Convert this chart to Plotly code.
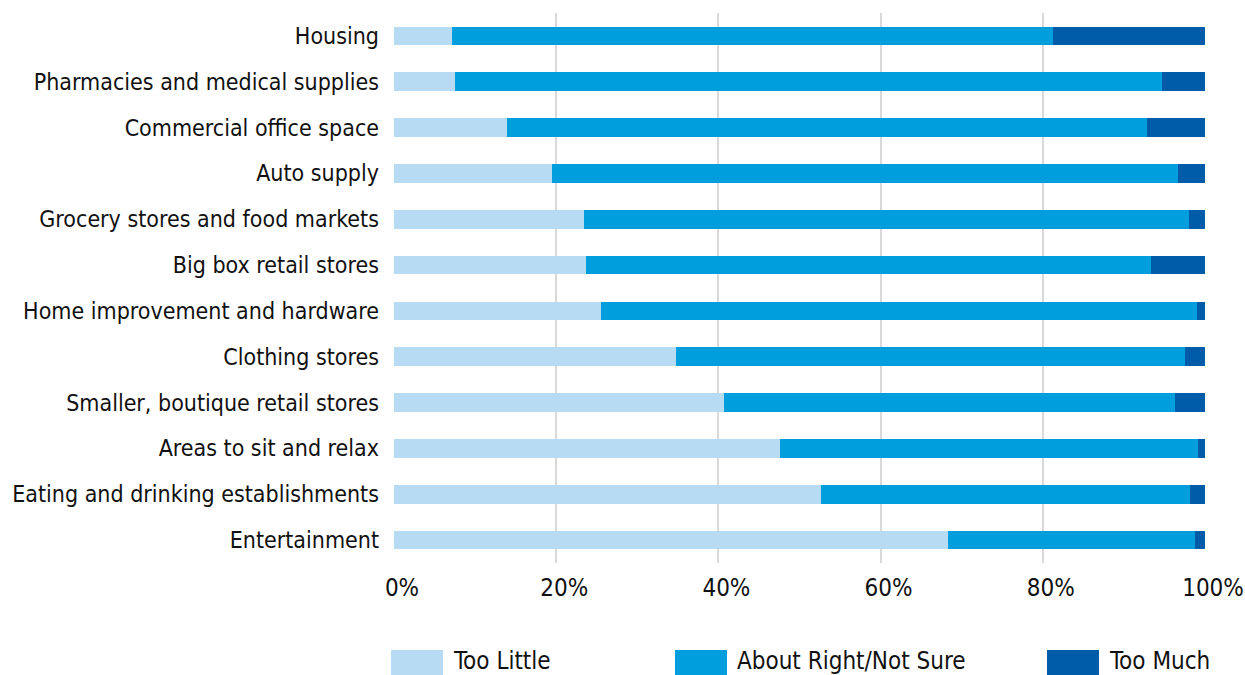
import plotly.graph_objects as go

# Survey: perceived supply of each type of space/business
categories = [
    "Housing",
    "Pharmacies and medical supplies",
    "Commercial office space",
    "Auto supply",
    "Grocery stores and food markets",
    "Big box retail stores",
    "Home improvement and hardware",
    "Clothing stores",
    "Smaller, boutique retail stores",
    "Areas to sit and relax",
    "Eating and drinking establishments",
    "Entertainment",
]
too_little = [7.2, 7.5, 13.9, 19.5, 23.4, 23.7, 25.5, 34.8, 40.7, 47.6, 52.6, 68.3]
too_much = [18.7, 5.3, 7.2, 3.3, 2.0, 6.7, 1.0, 2.5, 3.7, 0.9, 1.8, 1.2]
about_right = [round(100 - a - b, 1) for a, b in zip(too_little, too_much)]

series_names = ["Too Little", "About Right/Not Sure", "Too Much"]
series_values = [too_little, about_right, too_much]
colors = ["#B8DBF4", "#009EDD", "#005CA9"]

FONT = "Liberation Sans Narrow, DejaVu Sans Condensed, sans-serif"
W, H = 1245, 675
M = dict(l=394, r=40, t=13, b=112)

fig = go.Figure()
for name, vals, col in zip(series_names, series_values, colors):
    fig.add_trace(go.Bar(
        y=categories, x=vals, name=name, orientation="h",
        marker=dict(color=col, line=dict(width=0)),
        showlegend=False,
        hovertemplate="%{y}: %{x:.1f}%<extra>" + name + "</extra>",
    ))

# Legend drawn as large swatches with labels beneath the axis
def px_to_paper_x(px):
    return (px - M["l"]) / (W - M["l"] - M["r"])

def px_to_paper_y(py):
    return (H - M["b"] - py) / (H - M["t"] - M["b"])

swatch_left = [391, 675, 1047]
for name, col, x0 in zip(series_names, colors, swatch_left):
    fig.add_shape(
        type="rect", xref="paper", yref="paper",
        x0=px_to_paper_x(x0), x1=px_to_paper_x(x0 + 52),
        y0=px_to_paper_y(650), y1=px_to_paper_y(676),
        fillcolor=col, line=dict(width=0),
    )
    fig.add_annotation(
        text=name, xref="paper", yref="paper",
        x=px_to_paper_x(x0 + 60), y=px_to_paper_y(661),
        xanchor="left", yanchor="middle", showarrow=False,
        font=dict(family=FONT, size=24, color="#111111"),
    )

fig.update_layout(
    width=W, height=H, margin=M,
    barmode="stack", bargap=0.59,
    plot_bgcolor="white", paper_bgcolor="white",
    font=dict(family=FONT, size=23, color="#111111"),
)
fig.update_xaxes(
    range=[0, 100], tickvals=[0, 20, 40, 60, 80, 100],
    ticktext=["0%", "20%", "40%", "60%", "80%", "100%"],
    showgrid=True, gridcolor="#D9D9D9", gridwidth=2,
    zeroline=False, showline=False, automargin=False,
    ticks="", ticklabelstandoff=8, ticklabelshift=8,
    tickfont=dict(size=24),
)
fig.update_yaxes(
    autorange="reversed", showgrid=False, ticks="",
    ticklabelstandoff=14, showline=False, automargin=False,
    tickfont=dict(size=23),
)

fig.write_html("out.html")
